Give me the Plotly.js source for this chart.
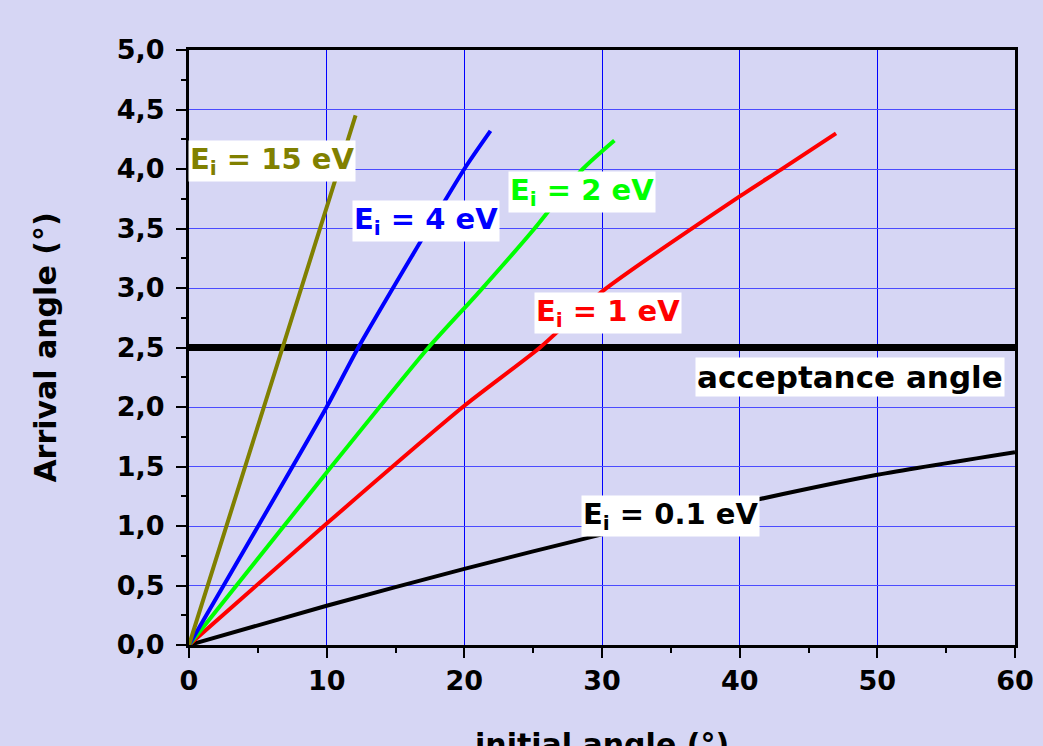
<!DOCTYPE html>
<html>
<head>
<meta charset="utf-8">
<script src="https://cdn.plot.ly/plotly-3.0.1.min.js"></script>
<style>
  html, body { margin: 0; padding: 0; background: #d6d6f4; }
  #chart { width: 1043px; height: 746px; }
</style>
</head>
<body>
<div id="chart"></div>
<script>
// Arrival angle versus initial angle for several ion energies
const x15 = [0, 6.8, 12.1];
const y15 = [0, 2.5, 4.45];

const x4 = [0, 10, 12.3, 20, 21.9];
const y4 = [0, 2.0, 2.5, 4.0, 4.32];

const x2 = [0, 10, 17.4, 21.1, 25.1, 28.6, 30.9];
const y2 = [0, 1.45, 2.5, 2.97, 3.5, 4.0, 4.24];

const x1 = [0, 10, 20, 25.5, 30, 40, 43, 47];
const y1 = [0, 1.02, 2.01, 2.5, 2.97, 3.77, 3.995, 4.3];

const x01 = [0, 10, 20, 30, 40, 50, 60];
const y01 = [0, 0.33, 0.64, 0.93, 1.19, 1.43, 1.62];

const acceptX = [0, 60];
const acceptY = [2.5, 2.5];

const labels = ['E<sub>i</sub> = 15 eV', 'E<sub>i</sub> = 4 eV', 'E<sub>i</sub> = 2 eV',
                'E<sub>i</sub> = 1 eV', 'E<sub>i</sub> = 0.1 eV', 'acceptance angle'];
const labelX = [6.03, 17.2, 28.55, 30.44, 34.94, 48.0];
const labelY = [4.07, 3.56, 3.81, 2.79, 1.084, 2.25];
const labelSize = [29, 29, 29, 29, 29, 31];
const colors = ['#808000', '#0000ff', '#00ff00', '#ff0000', '#000000', '#000000'];

const xTitle = 'initial angle (°)';
const yTitle = 'Arrival angle (°)';

const FONT = 'DejaVu Sans, Arial, sans-serif';

function curve(x, y, color, width) {
  return { x: x, y: y, type: 'scatter', mode: 'lines',
           line: { color: color, width: width, shape: 'spline', smoothing: 0.6 },
           hoverinfo: 'skip' };
}

const traces = [
  curve(acceptX, acceptY, '#000000', 7),
  curve(x01, y01, colors[4], 4),
  curve(x1, y1, colors[3], 4),
  curve(x2, y2, colors[2], 4),
  curve(x4, y4, colors[1], 4),
  curve(x15, y15, colors[0], 4)
];

const annotations = labels.map((t, i) => ({
  x: labelX[i], y: labelY[i], xref: 'x', yref: 'y',
  text: t, showarrow: false,
  font: { family: FONT, size: labelSize[i], color: colors[i], weight: 'bold' },
  bgcolor: '#ffffff', borderpad: 1
}));

// x-axis title sits low, partly past the bottom edge of the page
annotations.push({
  x: 0.5, y: 0, xref: 'paper', yref: 'paper',
  xanchor: 'center', yanchor: 'top', yshift: -80,
  text: xTitle, showarrow: false,
  font: { family: FONT, size: 30, color: '#000000', weight: 'bold' }
});

const layout = {
  width: 1043, height: 746,
  paper_bgcolor: '#d6d6f4', plot_bgcolor: '#d6d6f4',
  margin: { l: 189, r: 28, t: 50, b: 101 },
  showlegend: false,
  separators: ',.',
  xaxis: {
    range: [0, 60], dtick: 10, tick0: 0,
    showline: true, linecolor: '#000000', linewidth: 3, mirror: true,
    ticks: 'outside', ticklen: 10, tickwidth: 2, tickcolor: '#000000',
    minor: { dtick: 5, ticklen: 5, tickwidth: 2, ticks: 'outside', tickcolor: '#000000', showgrid: false },
    showgrid: true, gridcolor: '#0000ff', gridwidth: 1,
    zeroline: false,
    tickfont: { family: FONT, size: 27, color: '#000000', weight: 'bold' },
    automargin: false
  },
  yaxis: {
    range: [0, 5], dtick: 0.5, tick0: 0, tickformat: '.1f',
    showline: true, linecolor: '#000000', linewidth: 3, mirror: true,
    ticks: 'outside', ticklen: 10, tickwidth: 2, tickcolor: '#000000',
    minor: { dtick: 0.25, ticklen: 5, tickwidth: 2, ticks: 'outside', tickcolor: '#000000', showgrid: false },
    showgrid: true, gridcolor: '#4b4bff', gridwidth: 1,
    zeroline: false,
    ticklabelstandoff: 6,
    tickfont: { family: FONT, size: 27, color: '#000000', weight: 'bold' },
    title: { text: yTitle, standoff: 52,
             font: { family: FONT, size: 30, color: '#000000', weight: 'bold' } },
    automargin: false
  },
  annotations: annotations
};

Plotly.newPlot('chart', traces, layout, { staticPlot: true, displayModeBar: false });
</script>
</body>
</html>
